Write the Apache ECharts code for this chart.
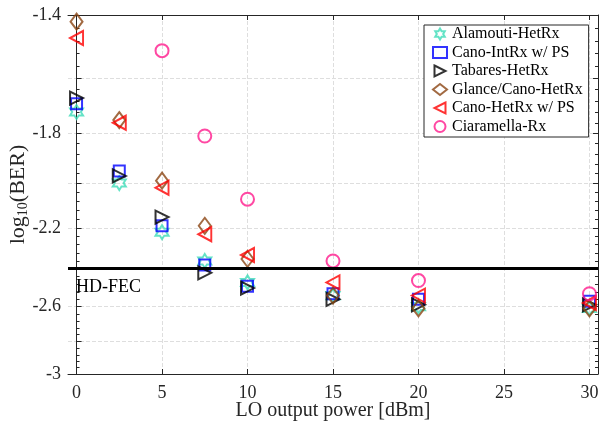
<!DOCTYPE html>
<html>
<head>
<meta charset="utf-8">
<script src="https://cdn.jsdelivr.net/npm/echarts@6/dist/echarts.min.js"></script>
<style>
html,body{margin:0;padding:0;background:#fff;}
#chart{width:599px;height:424px;}
</style>
</head>
<body>
<div id="chart"></div>
<script>
// ---- data (log10(BER) values) ----
const xPower = [0, 2.5, 5, 7.5, 10, 15, 20, 30];
const alamoutiHetRx = [-1.72, -2.00, -2.22, -2.36, -2.47, -2.54, -2.60, -2.61];
const canoIntRxPS  = [-1.69, -1.95, -2.19, -2.38, -2.49, -2.53, -2.56, -2.57];
const tabaresHetRx = [-1.67, -1.97, -2.15, -2.42, -2.50, -2.56, -2.59, -2.59];
const glanceCanoHetRx = [-1.42, -1.75, -1.99, -2.19, -2.35, -2.54, -2.61, -2.61];
const canoHetRxPS  = [-1.47, -1.76, -2.02, -2.23, -2.33, -2.47, -2.54, -2.58];
const xCiaramella = [5, 7.5, 10, 15, 20, 30];
const ciaramellaRx = [-1.51, -1.81, -2.07, -2.36, -2.46, -2.53];
const hdFec = -2.42;

const xTicks = [0, 5, 10, 15, 20, 25, 30];
const yTickLabels = [-1.4, -1.8, -2.2, -2.6, -3];
const yGridValues = [-1.4, -1.6, -1.8, -2.0, -2.2, -2.4, -2.6, -2.8, -3.0];
const yMin = -1.4, yMax = -3;

// y axis is logarithmic in |log10(BER)| (reversed)
const T = v => Math.log10(-v);
const yMinorValues = [];
for (let k = 0; k <= 40; k++) yMinorValues.push(T(-(1.4 + k * 0.04)));

const FONT = 'Liberation Serif';
const AX = '#262626';

function pts(xs, ys) { return xs.map((x, i) => [x, T(ys[i])]); }

const triRight = 'path://M0,0 L10,5 L0,10 Z';
const triLeft = 'path://M10,0 L0,5 L10,10 Z';
const hexagram = 'path://M0,-10 L2.887,-5 L8.66,-5 L5.774,0 L8.66,5 L2.887,5 L0,10 L-2.887,5 L-8.66,5 L-5.774,0 L-8.66,-5 L-2.887,-5 Z';

function ser(name, xs, ys, symbol, size, color, extra) {
  return Object.assign({
    name: name, type: 'scatter', xAxisIndex: 0, yAxisIndex: 0,
    data: pts(xs, ys), symbol: symbol, symbolSize: size,
    itemStyle: { color: 'rgba(0,0,0,0)', borderColor: color, borderWidth: 2 },
    emphasis: { disabled: true }
  }, extra || {});
}

const yBase = {
  type: 'value', min: T(yMin), max: T(yMax), inverse: true,
  axisLabel: { show: false }, splitLine: { show: false }, axisLine: { show: false }
};

const chart = echarts.init(document.getElementById('chart'), null, { renderer: 'canvas' });
chart.setOption({
  animation: false,
  backgroundColor: '#fff',
  grid: { left: 68, right: 1, top: 15, bottom: 50, containLabel: false, outerBoundsMode: 'none' },
  legend: {
    orient: 'vertical', left: 424, top: 25,
    padding: [1, 6, 2.5, 8], itemGap: 2.5, itemWidth: 14, itemHeight: 11,
    borderColor: AX, borderWidth: 1, backgroundColor: '#fff',
    textStyle: { fontFamily: FONT, fontSize: 16, lineHeight: 16, color: '#000' },
    data: ['Alamouti-HetRx', 'Cano-IntRx w/ PS', 'Tabares-HetRx', 'Glance/Cano-HetRx', 'Cano-HetRx w/ PS', 'Ciaramella-Rx']
  },
  xAxis: [{
    type: 'value', min: -0.5, max: 30.5, position: 'bottom',
    name: 'LO output power [dBm]', nameLocation: 'middle', nameGap: 27, nameMoveOverlap: false,
    nameTextStyle: { fontFamily: FONT, fontSize: 20, color: AX },
    axisLine: { lineStyle: { color: AX, width: 1 } },
    axisTick: { inside: true, length: 5, customValues: xTicks, lineStyle: { color: AX } },
    axisLabel: { customValues: xTicks, fontFamily: FONT, fontSize: 18, color: AX, margin: 10 },
    splitLine: { show: true, lineStyle: { color: '#dedede', type: [4, 2], width: 1 } }
  }, {
    type: 'value', min: -0.5, max: 30.5, position: 'top',
    axisLine: { lineStyle: { color: AX, width: 1 } },
    axisTick: { inside: true, length: 5, customValues: xTicks, lineStyle: { color: AX } },
    axisLabel: { show: false }, splitLine: { show: false }
  }],
  yAxis: [Object.assign({}, yBase, {
    position: 'left',
    name: 'log{s|10}(BER)', nameLocation: 'middle', nameGap: 38, nameRotate: 90, nameMoveOverlap: false,
    nameTextStyle: { fontFamily: FONT, fontSize: 22, color: AX,
      rich: { s: { fontFamily: FONT, fontSize: 14, color: AX, verticalAlign: 'bottom', padding: [9, 0, 0, 0] } } },
    axisLine: { show: true, lineStyle: { color: AX, width: 1 } },
    axisTick: { inside: true, length: 5, customValues: yGridValues.map(T), lineStyle: { color: AX } },
    axisLabel: { show: true, customValues: yTickLabels.map(T), fontFamily: FONT, fontSize: 18, color: AX, margin: 7,
      formatter: v => '-' + (Math.round(Math.pow(10, v) * 10) / 10) },
    splitLine: { show: true, lineStyle: { color: '#dedede', type: [4, 2], width: 1 } }
  }), Object.assign({}, yBase, {
    position: 'left',
    axisTick: { inside: true, length: 3, customValues: yMinorValues, lineStyle: { color: AX } }
  }), Object.assign({}, yBase, {
    position: 'right',
    axisLine: { show: true, lineStyle: { color: AX, width: 1 } },
    axisTick: { inside: true, length: 5, customValues: yGridValues.map(T), lineStyle: { color: AX } }
  }), Object.assign({}, yBase, {
    position: 'right',
    axisTick: { inside: true, length: 3, customValues: yMinorValues, lineStyle: { color: AX } }
  })],
  series: [
    ser('Alamouti-HetRx', xPower, alamoutiHetRx, hexagram, [13, 14], '#3ddcb8', {
      markLine: {
        silent: true, symbol: 'none', animation: false,
        lineStyle: { color: '#000', width: 3, type: 'solid' },
        label: { show: true, position: 'insideStartBottom', formatter: 'HD-FEC',
          fontFamily: FONT, fontSize: 18, color: '#000', distance: [8, 10] },
        data: [{ yAxis: T(hdFec) }]
      }
    }),
    ser('Cano-IntRx w/ PS', xPower, canoIntRxPS, 'rect', [11, 11], '#0000ff'),
    ser('Tabares-HetRx', xPower, tabaresHetRx, triRight, [13, 13], '#000000'),
    ser('Glance/Cano-HetRx', xPower, glanceCanoHetRx, 'diamond', [12, 16], '#8b4513'),
    ser('Cano-HetRx w/ PS', xPower, canoHetRxPS, triLeft, [13, 14], '#ff0000'),
    ser('Ciaramella-Rx', xCiaramella, ciaramellaRx, 'circle', [13, 13], '#ff1a8c')
  ]
});
</script>
</body>
</html>
